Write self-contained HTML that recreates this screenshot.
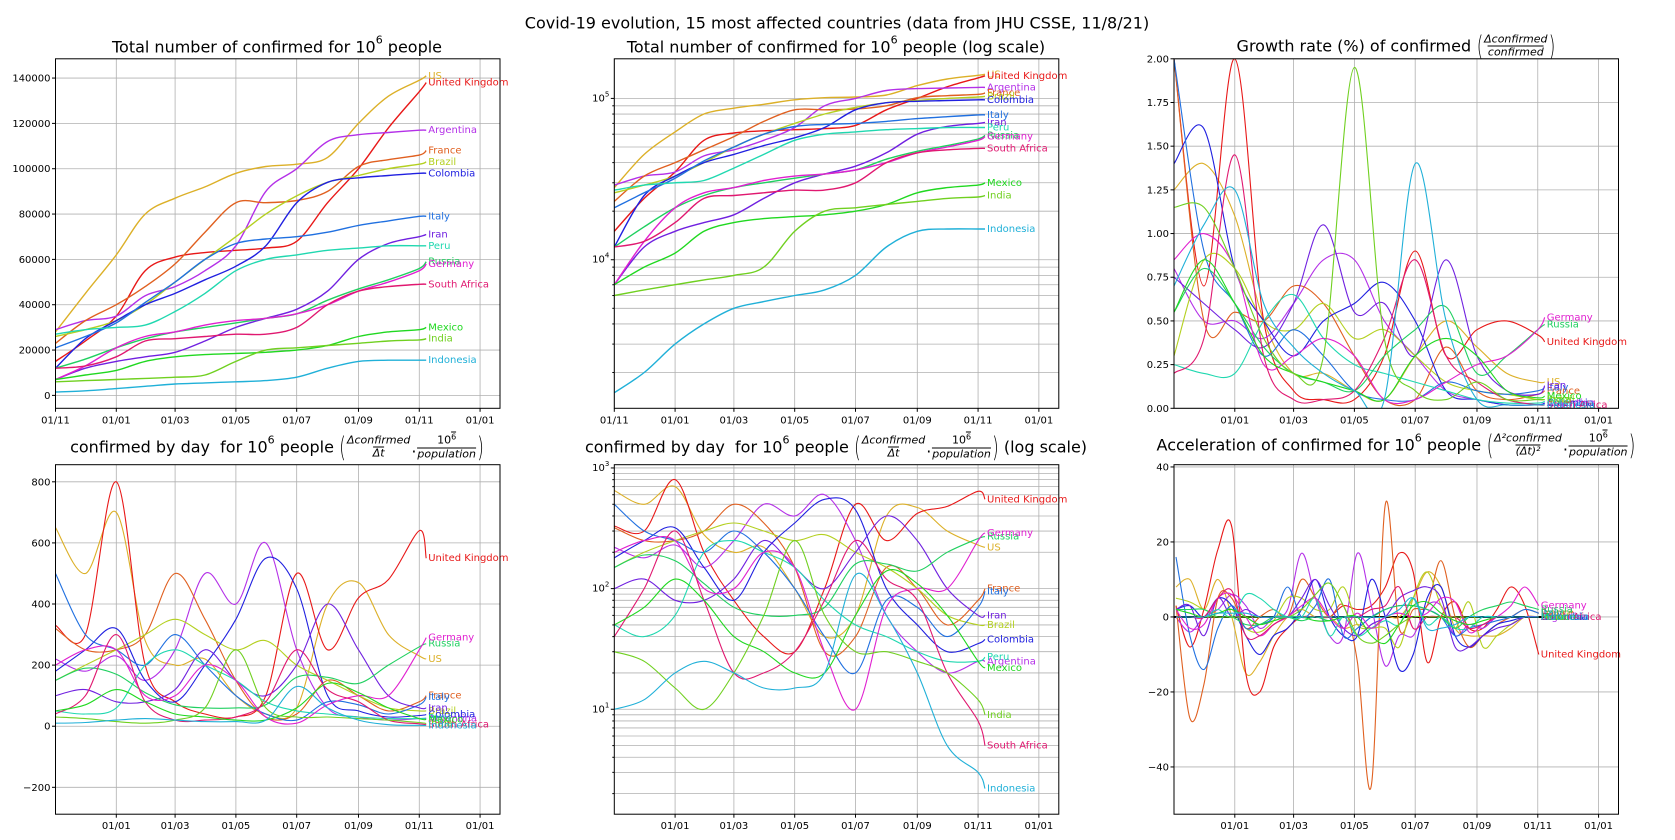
<!DOCTYPE html>
<html><head><meta charset="utf-8">
<style>
body{margin:0;background:#fff;width:1675px;height:840px;overflow:hidden;font-family:"DejaVu Sans","Liberation Sans",sans-serif;}
#wrap{position:relative;width:1675px;height:840px;}
.t{position:absolute;transform:translate(-50%,-50%);white-space:nowrap;font-size:16px;color:#000;display:flex;align-items:center;}
.fr{display:inline-flex;flex-direction:column;align-items:center;font-size:11px;font-style:italic;line-height:12px;margin:0 1px;}
.fr span:last-child{border-top:1px solid #000;}
.pa{font-size:28px;font-weight:100;transform:scaleX(0.6);display:inline-block;margin:0 -2px;}
.sp{font-size:11px;position:relative;top:-7px;}
.sps{font-size:8px;position:relative;top:-4px;}
</style></head>
<body>
<div id="wrap">
<div class="t" style="left:837px;top:23px;font-size:16px">Covid-19 evolution, 15 most affected countries (data from JHU CSSE, 11/8/21)</div>
<div class="t" style="left:277px;top:47px">Total number of confirmed for 10<span class="sp">6</span>&nbsp;people</div>
<div class="t" style="left:836px;top:47px">Total number of confirmed for 10<span class="sp">6</span>&nbsp;people (log scale)</div>
<div class="t" style="left:1396px;top:46px">Growth rate (%) of confirmed&nbsp;<span class="pa">(</span><span class="fr"><span>Δconfirmed</span><span>confirmed</span></span><span class="pa">)</span></div>
<div class="t" style="left:277px;top:447px">confirmed by day&nbsp; for 10<span class="sp">6</span>&nbsp;people&nbsp;<span class="pa">(</span><span class="fr"><span>Δconfirmed</span><span>Δt</span></span>.<span class="fr"><span style="font-style:normal">10<span class="sps">6</span></span><span>population</span></span><span class="pa">)</span></div>
<div class="t" style="left:836px;top:447px">confirmed by day&nbsp; for 10<span class="sp">6</span>&nbsp;people&nbsp;<span class="pa">(</span><span class="fr"><span>Δconfirmed</span><span>Δt</span></span>.<span class="fr"><span style="font-style:normal">10<span class="sps">6</span></span><span>population</span></span><span class="pa">)</span>&nbsp;(log scale)</div>
<div class="t" style="left:1396px;top:445px">Acceleration of confirmed for 10<span class="sp">6</span>&nbsp;people&nbsp;<span class="pa">(</span><span class="fr"><span>Δ²confirmed</span><span>(Δt)²</span></span>.<span class="fr"><span style="font-style:normal">10<span class="sps">6</span></span><span>population</span></span><span class="pa">)</span></div>
<svg id="svg" width="1675" height="840" style="position:absolute;left:0;top:0"></svg>
</div>
<script>
const countries=["US","United Kingdom","Argentina","France","Brazil","Colombia","Italy","Iran","Peru","Russia","Germany","South Africa","Mexico","India","Indonesia"];
const colors=["#dcb028","#e81818","#b430e8","#e06020","#b4d020","#2020e0","#2070e0","#7020e0","#20d8b0","#20d060","#e020d0","#e01870","#20d820","#70d020","#20b0d8"];
const days=[0,30,61,90,120,150,181,211,242,273,304,334,365,372];
const accDays=[2,16,30,44,58,72,86,100,114,128,142,156,170,184,198,212,226,240,254,268,282,296,310,324,338,352,366];
const tickDays=[0,61,120,181,242,304,365,426];
const tickLabels=["01/11","01/01","01/03","01/05","01/07","01/09","01/11","01/01"];
const totalConfirmed=[
[28000,45000,62000,80000,87000,92000,98000,101000,102000,105000,120000,132000,139000,141000],
[15000,24000,35000,55000,61000,63000,64000,65000,68000,85000,100000,118000,134000,138000],
[29000,33000,35000,44000,48000,55000,66000,90000,100000,112000,115000,116000,117000,117000],
[23000,33000,40000,48000,58000,72000,85000,85000,86000,90000,101000,104000,106000,108000],
[26000,29000,33000,40000,50000,60000,70000,80000,88000,94000,97000,100000,102000,103000],
[12000,25000,33000,40000,45000,51000,57000,66000,85000,94000,96000,97000,98000,98000],
[21000,26000,32000,41000,50000,60000,67000,69000,70000,72000,75000,77000,79000,79000],
[7000,12000,15000,17000,19000,24000,30000,34000,38000,46000,60000,67000,70000,71000],
[27000,29000,30000,31000,37000,45000,55000,60000,62000,64000,65000,66000,66000,66000],
[12000,16000,21000,25000,28000,30000,32000,34000,36000,42000,47000,51000,56000,59000],
[7000,13000,21000,26000,28000,31000,33000,34000,36000,40000,46000,50000,55000,58000],
[12000,13000,17000,24000,25000,26000,27000,27000,30000,40000,46000,48000,49000,49000],
[7000,9000,11000,15000,17000,18000,18500,19000,20000,22000,26000,28000,29000,30000],
[6000,6500,7000,7500,8000,9000,15000,20000,21000,22000,23000,24000,24500,25000],
[1500,2000,3000,4000,5000,5500,6000,6500,8000,12000,15000,15500,15500,15500]];
const growthRate=[
[1.25,1.4,1.1,0.5,0.2,0.2,0.1,0.05,0.3,0.5,0.35,0.2,0.15,0.15],
[2.0,0.7,2.0,0.5,0.1,0.05,0.05,0.3,0.9,0.3,0.45,0.5,0.42,0.38],
[0.8,0.5,0.5,0.4,0.6,0.85,0.85,0.5,0.3,0.1,0.05,0.02,0.02,0.03],
[2.0,0.5,0.55,0.5,0.7,0.6,0.3,0.05,0.05,0.35,0.1,0.05,0.08,0.1],
[0.3,0.85,0.8,0.5,0.45,0.6,0.4,0.45,0.3,0.15,0.1,0.08,0.05,0.05],
[1.4,1.6,0.8,0.5,0.3,0.5,0.6,0.72,0.5,0.1,0.05,0.02,0.02,0.03],
[2.0,0.9,0.6,0.3,0.45,0.3,0.1,0.05,0.05,0.15,0.1,0.08,0.1,0.12],
[0.75,0.6,0.45,0.35,0.6,1.05,0.55,0.6,0.3,0.85,0.3,0.1,0.08,0.13],
[0.25,0.2,0.2,0.5,0.65,0.4,0.25,0.2,0.15,0.1,0.05,0.03,0.03,0.04],
[0.55,0.8,0.6,0.35,0.2,0.15,0.1,0.3,0.45,0.58,0.2,0.3,0.45,0.48],
[0.85,1.0,0.8,0.25,0.3,0.4,0.3,0.05,0.05,0.15,0.25,0.3,0.45,0.52],
[0.2,0.4,1.45,0.3,0.05,0.05,0.1,0.4,0.85,0.3,0.15,0.05,0.02,0.02],
[0.55,0.85,0.6,0.3,0.2,0.15,0.1,0.05,0.3,0.4,0.3,0.1,0.06,0.07],
[1.15,1.15,0.8,0.4,0.2,0.3,1.95,0.4,0.1,0.05,0.15,0.05,0.05,0.05],
[0.7,1.05,1.25,0.6,0.35,0.2,0.1,0.05,1.4,0.5,0.05,0.02,0.02,0.02]];
const dailyConfirmed=[
[650,500,700,280,200,220,100,40,60,400,470,300,230,220],
[330,300,800,200,80,40,30,100,500,250,420,480,640,550],
[220,180,230,150,250,500,400,600,250,60,30,20,25,25],
[320,250,250,300,500,350,150,30,40,150,100,50,80,100],
[150,200,250,300,350,300,250,280,200,150,100,60,50,50],
[180,250,320,150,80,200,350,550,450,100,50,30,35,38],
[500,300,250,200,300,200,100,40,20,80,70,40,70,95],
[100,120,80,80,120,250,150,100,200,400,250,100,60,60],
[50,40,60,200,250,200,150,80,50,40,30,25,25,27],
[150,190,170,110,70,60,60,70,160,160,140,200,260,270],
[200,250,250,100,100,200,150,30,10,70,100,100,250,290],
[40,100,300,80,20,20,30,80,250,120,80,20,8,5],
[50,70,120,80,40,30,20,20,60,140,110,60,25,22],
[30,25,15,10,20,60,250,60,30,30,25,20,12,9],
[10,12,20,25,20,15,15,20,130,60,20,5,3,2.2]];
const acceleration=[
[8,10,2,10,0,-15,-12,-5,0,2,0,0,-3,-2,-3,0,0,5,12,8,-3,-5,-5,-5,-3,0,0],
[3,-8,2,18,24,-15,-20,-8,-3,0,0,0,3,2,3,8,17,12,-12,0,4,-3,-3,2,8,3,-10],
[0,-4,0,2,6,3,-3,0,2,17,5,-5,-5,17,3,-13,-5,-5,3,3,-5,-2,-3,0,0,0,0],
[3,-27,-18,5,5,-3,0,2,0,10,5,0,3,-12,-45,30,-3,2,3,15,0,-8,-5,-2,0,2,1],
[5,4,2,1,2,-3,-4,-1,5,5,2,2,8,-2,-3,-3,-8,5,12,3,-3,4,-8,-5,-2,0,0],
[2,3,0,5,3,-5,-10,-5,-3,2,10,0,-5,-5,10,0,-14,-10,5,8,-5,-8,-5,-2,-1,0,0],
[16,-5,-14,-3,3,-3,-2,0,8,0,3,10,-5,-3,0,2,3,3,2,0,-5,-3,-2,-1,0,2,1],
[2,3,-5,5,0,2,0,0,0,5,10,3,-3,-5,-2,0,5,7,8,5,-8,-8,-5,-3,-2,0,0],
[0,0,0,2,0,6,5,2,0,0,5,-5,0,-5,-3,-1,-2,5,-2,0,-3,-3,0,0,0,0,0],
[2,2,2,0,0,-2,-2,0,0,-1,0,-1,0,0,0,2,3,3,2,0,-3,0,2,3,4,3,2],
[2,-3,-2,5,6,0,-5,-2,0,3,5,0,-3,1,-3,0,1,0,1,5,4,-4,-2,0,3,8,3],
[0,0,0,5,7,-5,-5,-2,0,0,0,0,0,0,2,3,8,-3,0,0,0,-3,-2,0,0,0,0],
[2,1,0,1,2,0,-2,-1,0,0,-1,-1,0,0,-5,-7,-2,3,4,1,-1,-2,-1,0,0,0,0],
[0,0,0,0,0,0,0,0,0,2,6,9,3,-5,-7,-5,-2,0,0,0,0,0,0,0,0,0,0],
[0,0,0,1,1,1,0,0,0,0,0,0,0,0,0,0,2,5,-3,-3,-2,0,0,0,0,0,0]];

const NS="http://www.w3.org/2000/svg";
const svg=document.getElementById('svg');
function el(tag,attrs,parent){const e=document.createElementNS(NS,tag);for(const k in attrs)e.setAttribute(k,attrs[k]);(parent||svg).appendChild(e);return e;}
function pathOf(pts){
  let d="M"+pts[0][0].toFixed(1)+","+pts[0][1].toFixed(1);
  for(let i=0;i<pts.length-1;i++){
    const p0=pts[i-1]||pts[i],p1=pts[i],p2=pts[i+1],p3=pts[i+2]||p2;
    const c1=[p1[0]+(p2[0]-p0[0])/6,p1[1]+(p2[1]-p0[1])/6];
    const c2=[p2[0]-(p3[0]-p1[0])/6,p2[1]-(p3[1]-p1[1])/6];
    d+="C"+c1[0].toFixed(1)+","+c1[1].toFixed(1)+" "+c2[0].toFixed(1)+","+c2[1].toFixed(1)+" "+p2[0].toFixed(1)+","+p2[1].toFixed(1);
  }
  return d;
}
let clipId=0;
function chart(o){
  const g=el('g',{});
  
  
  const X=d=>o.x+(d-0)/446*o.w;
  const lg=v=>Math.log10(Math.max(v,o.ymin*0.5));
  const Y=o.log?(v=>o.y+o.h-(lg(v)-Math.log10(o.ymin))/(Math.log10(o.ymax)-Math.log10(o.ymin))*o.h):(v=>o.y+o.h-(v-o.ymin)/(o.ymax-o.ymin)*o.h);
  const grid=el('g',{stroke:'#b0b0b0','stroke-width':'0.8'},g);
  
  
  tickDays.forEach((d,i)=>{
    if(!o.firstTick&&i===0)return;
    const x=X(d);
    el('line',{x1:x,x2:x,y1:o.y,y2:o.y+o.h},grid);
    el('line',{x1:x,x2:x,y1:o.y+o.h,y2:o.y+o.h+3.5,stroke:'#000'},g);
    const t=el('text',{x:x,y:o.y+o.h+15,'font-size':'10','text-anchor':'middle'},g);
    t.textContent=tickLabels[i];
    
    
  });
  if(o.log){
    for(let e=Math.floor(Math.log10(o.ymin));e<=Math.ceil(Math.log10(o.ymax));e++){
      for(let m=1;m<10;m++){
        const v=m*Math.pow(10,e);
        if(v<o.ymin||v>o.ymax)continue;
        const yy=Y(v);
        el('line',{x1:o.x,x2:o.x+o.w,y1:yy,y2:yy},grid);
        el('line',{x1:o.x-(m===1?3.5:2),x2:o.x,y1:yy,y2:yy,stroke:'#000'},g);
        if(m===1){
          const t=el('text',{x:o.x-5,y:yy+3,'font-size':'10','text-anchor':'end'},g);
          t.textContent='10';
          const s=el('tspan',{dy:'-5','font-size':'7'},t);s.textContent=String(e);
          
          
        }
      }
    }
  } else {
    o.yticks.forEach(v=>{
      const yy=Y(v);
      el('line',{x1:o.x,x2:o.x+o.w,y1:yy,y2:yy},grid);
      el('line',{x1:o.x-3.5,x2:o.x,y1:yy,y2:yy,stroke:'#000'},g);
      const t=el('text',{x:o.x-5,y:yy+3.5,'font-size':'10','text-anchor':'end'},g);
      t.textContent=o.fmt?o.fmt(v):(v<0?'\u2212'+(-v):String(v));
      
      
    });
  }
  const cid='c'+(clipId++);
  const cp=el('clipPath',{id:cid},g);
  el('rect',{x:o.x,y:o.y,width:o.w,height:o.h},cp);
  const lines=el('g',{'clip-path':'url(#'+cid+')',fill:'none'},g);
  if(o.zeroLine){
    const zl=el('line',{x1:o.x,x2:X(372),y1:Y(0),y2:Y(0),stroke:'#000','stroke-width':'2'},lines);
    
    
  }
  o.data.forEach((series,ci)=>{
    const pts=series.map((v,i)=>[X(o.days[i]),Y(v)]);
    const p=el('path',{d:pathOf(pts),stroke:colors[ci],'stroke-width':o.lw||1.1},lines);
    
    
    const last=series[series.length-1];
    let ly=Y(last);
    if(ly<o.y||ly>o.y+o.h)return;
    const t=el('text',{x:X(o.days[o.days.length-1])+2,y:ly+3,'font-size':'10',fill:colors[ci]},g);
    t.textContent=countries[ci];
    
    
  });
  const frame=el('rect',{x:o.x,y:o.y,width:o.w,height:o.h,fill:'none',stroke:'#000','stroke-width':'1'},g);
  
  
}
const C1=55.5,C2=614.3,C3=1174,W=444.5,R1=58.8,R2=464.7,H=349.5;
chart({name:'chart-total',x:C1,y:R1,w:W,h:H,ymin:-5700,ymax:148500,yticks:[0,20000,40000,60000,80000,100000,120000,140000],data:totalConfirmed,days:days,firstTick:true,lw:1.4});
chart({name:'chart-total-log',x:C2,y:R1,w:W,h:H,log:true,ymin:1200,ymax:176000,data:totalConfirmed,days:days,firstTick:true,lw:1.4});
chart({name:'chart-growth',x:C3,y:R1,w:W,h:H,ymin:0,ymax:2,yticks:[0,0.25,0.5,0.75,1,1.25,1.5,1.75,2],fmt:v=>v.toFixed(2),data:growthRate,days:days});
chart({name:'chart-daily',x:C1,y:R2,w:W,h:H,ymin:-288,ymax:856,yticks:[-200,0,200,400,600,800],data:dailyConfirmed,days:days});
chart({name:'chart-daily-log',x:C2,y:R2,w:W,h:H,log:true,ymin:1.35,ymax:1064,data:dailyConfirmed,days:days});
chart({name:'chart-acceleration',x:C3,y:R2,w:W,h:H,ymin:-52.6,ymax:40.6,yticks:[-40,-20,0,20,40],data:acceleration,days:accDays,zeroLine:true});
</script>
</body></html>
